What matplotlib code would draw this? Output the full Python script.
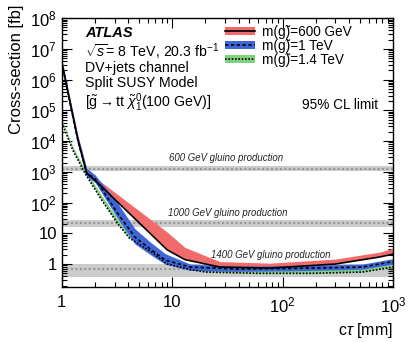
import math
import matplotlib
matplotlib.use('Agg')
import matplotlib.pyplot as plt
from matplotlib.patches import Patch
from matplotlib.lines import Line2D
from matplotlib.ticker import LogLocator, FixedLocator, FuncFormatter, NullFormatter

plt.rcParams['font.family'] = ['Liberation Sans', 'DejaVu Sans']
plt.rcParams['mathtext.fontset'] = 'custom'
plt.rcParams['mathtext.rm'] = 'Liberation Sans'
plt.rcParams['mathtext.it'] = 'Liberation Sans:italic'

# 600 GeV gluino: observed line + band
obs600_x = [1, 1.2, 1.4, 1.68, 2.07, 9, 13, 27, 77, 300, 760, 1000]
obs600_y = [3.5e6, 1.5e5, 1.1e4, 900, 470, 2.9, 1.4, 0.8, 0.74, 1.0, 1.7, 2.1]
band600_lo = [3.5e6, 1.5e5, 1.1e4, 900, 490, 3.1, 1.5, 0.85, 0.8, 1.07, 1.8, 2.2]
band600_hi = [4.5e6, 2.0e5, 1.5e4, 1200, 600, 11, 3.5, 1.2, 1.07, 1.45, 2.45, 3.3]

# 1 TeV gluino
line1000_x = [1, 1.2, 1.4, 1.68, 2.0, 3.2, 4.6, 6.5, 8.6, 14.5, 38, 110, 190, 530, 1000]
line1000_y = [3.5e6, 1.4e5, 1.0e4, 900, 600, 45, 7.5, 2.85, 1.35, 0.8, 0.69, 0.72, 0.74, 0.8, 1.2]
band1000_lo = [2.6e6, 1.0e5, 7.5e3, 700, 450, 31, 4.5, 1.9, 1.0, 0.62, 0.58, 0.6, 0.62, 0.68, 1.0]
band1000_hi = [4.5e6, 1.9e5, 1.4e4, 1300, 800, 96, 14, 4.8, 2.2, 1.0, 0.85, 0.88, 0.92, 1.0, 1.5]

# 1.4 TeV gluino
line1400_x = [1, 1.26, 1.62, 2.3, 3.2, 4.1, 6.5, 9, 15, 20, 60, 190, 530, 1000]
line1400_y = [4e4, 5000, 900, 120, 21, 7, 2.45, 1.0, 0.65, 0.55, 0.5, 0.5, 0.55, 0.8]
band1400_lo = [4e4, 5000, 900, 120, 21, 7, 2.45, 1.0, 0.65, 0.55, 0.5, 0.5, 0.55, 0.8]
band1400_hi = [5e4, 6500, 1200, 170, 30, 10, 3.3, 1.35, 0.85, 0.7, 0.64, 0.64, 0.72, 1.1]

# gluino production cross-sections (centre, low, high) [fb]
xsec_labels = ['600 GeV gluino production', '1000 GeV gluino production', '1400 GeV gluino production']
xsec_mid = [1250, 21, 0.7]
xsec_lo = [1050, 16, 0.38]
xsec_hi = [1540, 27, 1.0]

legend_labels = ['m(g\u0303)=600 GeV', 'm(g\u0303)=1 TeV', 'm(g\u0303)=1.4 TeV']

fig = plt.figure(figsize=(4.15, 3.42), dpi=100)
ax = fig.add_axes([0.149, 0.161, 0.798, 0.786])
ax.set_xscale('log')
ax.set_yscale('log')

for lo, hi, mid in zip(xsec_lo, xsec_hi, xsec_mid):
    ax.axhspan(lo, hi, color='#cccccc', lw=0, zorder=1)
    ax.axhline(mid, color='#999999', ls=(0, (1, 1)), lw=1.6, zorder=1.5)

ax.fill_between(obs600_x, band600_lo, band600_hi, color='#f26b6b', lw=0, zorder=2)
ax.fill_between(line1000_x, band1000_lo, band1000_hi, color='#3f66d8', lw=0, zorder=2.2)
ax.fill_between(line1400_x, band1400_lo, band1400_hi, color='#80d280', lw=0, zorder=2.1)
ax.plot(obs600_x, obs600_y, color='black', lw=1.2, zorder=3)
ax.plot(line1000_x, line1000_y, color='black', lw=1.2, ls=(0, (2, 1.5)), zorder=3)
ax.plot(line1400_x, line1400_y, color='black', lw=1.2, ls=(0, (1, 1)), zorder=3)

ax.set_xlim(1, 1000)
ax.set_ylim(0.18, 1e8)

ax.xaxis.set_major_locator(FixedLocator([1, 10, 100, 1000]))
ax.set_xticklabels(['1', '10', '$10^{2}$', '$10^{3}$'])
ax.xaxis.set_minor_locator(LogLocator(base=10, subs=range(2, 10), numticks=20))
ax.xaxis.set_minor_formatter(NullFormatter())

def ylab(v, pos):
    if v == 1:
        return '1'
    if v == 10:
        return '10'
    return '$10^{%d}$' % round(math.log10(v))

ax.yaxis.set_major_locator(FixedLocator([1, 10, 1e2, 1e3, 1e4, 1e5, 1e6, 1e7, 1e8]))
ax.yaxis.set_major_formatter(FuncFormatter(ylab))
ax.yaxis.set_minor_locator(LogLocator(base=10, subs=range(2, 10), numticks=20))
ax.yaxis.set_minor_formatter(NullFormatter())

ax.tick_params(which='both', direction='in', top=True, right=True, labelsize=12, width=0.8)
ax.tick_params(which='major', length=7)
ax.tick_params(which='minor', length=3.5)
ax.tick_params(axis='x', which='major', pad=6)
for sp in ax.spines.values():
    sp.set_linewidth(1.0)

ax.set_ylabel('Cross-section [fb]', loc='top', fontsize=12)
ax.yaxis.set_label_coords(-0.115, 1.05)
ax.set_xlabel(r'c$\tau$ [mm]', loc='right', fontsize=11.5)

ax.text(0.07, 0.944, 'ATLAS', transform=ax.transAxes, fontsize=10.5,
        fontweight='bold', fontstyle='italic', va='center')
ax.text(0.07, 0.873, r'$\sqrt{s}$= 8 TeV, 20.3 fb$^{-1}$', transform=ax.transAxes,
        fontsize=10.2, va='center')
ax.text(0.07, 0.815, 'DV+jets channel', transform=ax.transAxes, fontsize=10.2, va='center')
ax.text(0.07, 0.758, 'Split SUSY Model', transform=ax.transAxes, fontsize=10.2, va='center')
ax.text(0.07, 0.686, r'[$\tilde{\mathrm{g}}\rightarrow \mathrm{tt}\ \tilde{\chi}^{0}_{1}$(100 GeV)]',
        transform=ax.transAxes, fontsize=10.2, va='center')
ax.text(0.955, 0.677, '95% CL limit', transform=ax.transAxes, fontsize=9.8,
        va='center', ha='right')

label_pos = [(0.325, 0.478), (0.32, 0.275), (0.45, 0.119)]
for txt, (lx, ly) in zip(xsec_labels, label_pos):
    ax.text(lx, ly, txt, transform=ax.transAxes, fontsize=6.9, fontstyle='italic',
            va='center', color='#222222')

handles = [
    (Patch(color='#f26b6b', lw=0), Line2D([], [], color='black', lw=1.2)),
    (Patch(color='#3f66d8', lw=0), Line2D([], [], color='black', lw=1.2, ls=(0, (2, 1.5)))),
    (Patch(color='#80d280', lw=0), Line2D([], [], color='black', lw=1.2, ls=(0, (1, 1)))),
]
ax.legend(handles, legend_labels, loc='upper left', bbox_to_anchor=(0.477, 0.996), frameon=False,
          fontsize=9.8, handlelength=2.2, handleheight=0.6, labelspacing=0.0,
          handletextpad=0.5, borderaxespad=0)

fig.savefig('out.png', dpi=100)
